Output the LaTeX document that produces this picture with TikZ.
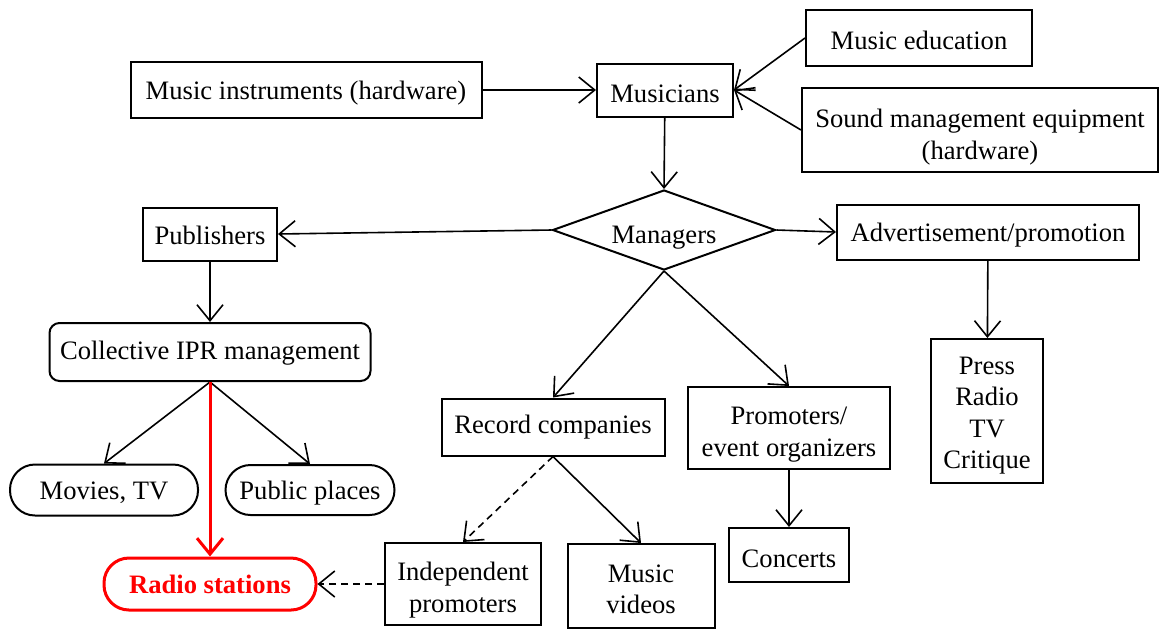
\documentclass[tikz,border=0pt]{standalone}
\usepackage{fontspec}
\setmainfont{Liberation Serif}
\usetikzlibrary{arrows.meta,shapes.geometric}

\newcommand{\dropline}[1]{\rule{0pt}{#1}}

\begin{document}
\begin{tikzpicture}[x=0.5pt, y=-0.5pt,
    font=\fontsize{13.3}{15.8}\selectfont,
    drop/.store in=\dropht,
    box/.style = {rectangle, draw, line width=1pt, align=center, inner sep=2pt, drop=12.3pt, execute at begin node={\rule{0pt}{\dropht}}},
    rbox/.style = {box, rounded corners=5pt},
    pill/.style = {box, rounded corners=12.5pt},
    diam/.style = {diamond, draw, line width=1pt, aspect=2.8, inner sep=0pt, minimum width=111.5pt, minimum height=40pt, drop=16pt, execute at begin node={\rule{0pt}{\dropht}}},
    arr/.style = {-{Straight Barb[length=8pt,width=13pt]}, line width=0.8pt},
    dashline/.style = {dash pattern=on 3.5pt off 2.5pt}]
    \useasboundingbox (0,0) rectangle (1159,628);

    % top row
    \node (instr) [box, minimum width=175.5pt, minimum height=28pt] at (306,90) {Music instruments (hardware)};
    \node (musicians) [box, minimum width=68pt, minimum height=26.5pt] at (665,90) {Musicians};
    \node (educ) [box, minimum width=113pt, minimum height=28pt, drop=11.3pt] at (919,38) {Music education};
    \node (sound) [box, minimum width=178pt, minimum height=42pt, drop=0pt] at (980,130) {\dropline{16.3pt}Sound management equipment\\(hardware)};

    % middle row
    \node (managers) [diam] at (664,230) {Managers};
    \node (publishers) [box, minimum width=67pt, minimum height=26.5pt, drop=10.3pt] at (210,234) {Publishers};
    \node (advert) [box, minimum width=151pt, minimum height=27.5pt] at (988,232) {Advertisement/promotion};

    % left branch
    \node (coll) [rbox, minimum width=160.5pt, minimum height=29pt, drop=10.3pt] at (210,352) {Collective IPR management};
    \node (movies) [pill, minimum width=94pt, minimum height=25.5pt, drop=11.3pt] at (104,490) {Movies, TV};
    \node (public) [pill, minimum width=84.5pt, minimum height=25pt] at (310,490) {Public places};
    \node (radio) [pill, draw=red, text=red, line width=1.5pt, minimum width=106pt, minimum height=26pt, drop=9.3pt, font=\fontsize{13.3}{15.8}\selectfont\bfseries] at (210,584) {Radio stations};

    % lower middle
    \node (record) [box, minimum width=111.5pt, minimum height=28.5pt, drop=9.3pt] at (553,427) {Record companies};
    \node (promoters) [box, minimum width=101pt, minimum height=41pt, drop=0pt] at (789,428) {\dropline{15.3pt}Promoters/\\event organizers};
    \node (press) [box, minimum width=56pt, minimum height=72pt, drop=0pt] at (987,411) {\dropline{13.3pt}Press\\Radio\\TV\\Critique};
    \node (indep) [box, minimum width=78pt, minimum height=41pt, drop=0pt] at (463,584) {\dropline{15.3pt}Independent\\promoters};
    \node (videos) [box, minimum width=73.5pt, minimum height=42pt, drop=0pt] at (641,586) {\dropline{12.3pt}Music\\videos};
    \node (concerts) [box, minimum width=60pt, minimum height=27pt] at (789,555) {Concerts};

    % connectors
    \draw [arr] (instr) -- (musicians);
    \draw [arr] (educ.west) -- (musicians.east);
    \draw [arr] (sound.west) -- (musicians.east);
    \draw [arr] (musicians) -- (managers.north);
    \draw [arr] (managers.west) -- (publishers.east);
    \draw [arr] (managers.east) -- (advert.west);
    \draw [arr] (publishers) -- (coll);
    \draw [arr] (coll.south) -- (movies.north);
    \draw [arr] (coll.south) -- (public.north);
    \draw [arr, draw=red, line width=1.5pt] (coll.south) -- (radio.north);
    \draw [arr] (managers.south) -- (record.north);
    \draw [arr] (managers.south) -- (promoters.north);
    \draw [arr] (advert) -- (press);
    \draw [arr] (promoters) -- (concerts);
    \draw [arr, dashline] (record.south) -- (indep.north);
    \draw [arr] (record.south) -- (videos.north);
    \draw [arr, dashline] (indep.west) -- (radio.east);
\end{tikzpicture}
\end{document}
